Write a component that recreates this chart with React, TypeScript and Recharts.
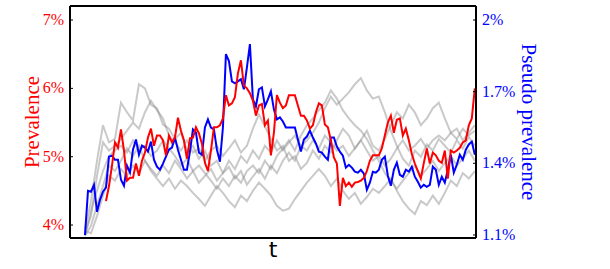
import { LineChart, Line, XAxis, YAxis, ReferenceLine } from 'recharts';

// time grid index: one step per sample
const redStart = 7;
const grayStep = 2;

// prevalence (%), left axis
const red = [
  4.35, 4.57, 4.87, 5.21, 5.13, 5.4, 5.09, 4.65, 4.69, 4.69, 4.9, 4.72, 4.94, 5.06, 5.28, 5.41,
  5.16, 5.31, 5.31, 5.24, 5.02, 5.31, 5.21, 5.28, 5.57, 5.38, 5.24, 4.97, 5.27, 5.28, 5.43, 5.34,
  5.19, 4.91, 4.79, 5.09, 5.43, 5.43, 5.46, 5.56, 5.9, 5.75, 5.78, 5.87, 6.22, 6.41, 6.04, 6.0,
  5.93, 5.82, 5.6, 5.75, 5.77, 5.46, 5.53, 5.02, 5.35, 5.9, 5.79, 5.71, 5.75, 5.9, 5.9, 5.9,
  5.75, 5.6, 5.6, 5.53, 5.41, 5.46, 5.65, 5.78, 5.75, 5.47, 5.43, 5.24, 4.99, 4.9, 4.28, 4.69,
  4.57, 4.62, 4.56, 4.62, 4.63, 4.65, 4.69, 4.79, 4.94, 5.02, 5.02, 5.02, 5.12, 5.31, 5.5, 5.6,
  5.35, 5.54, 5.56, 5.31, 5.41, 5.24, 5.04, 4.9, 4.79, 4.68, 4.91, 5.12, 4.9, 5.06, 5.02, 4.94,
  4.91, 5.09, 4.68, 5.09, 5.06, 5.09, 5.13, 5.21, 5.24, 5.46, 5.56, 6.0,
];

// pseudo prevalence (%), right axis
const blue = [
  1.1, 1.285, 1.281, 1.31, 1.197, 1.247, 1.281, 1.298, 1.428, 1.432, 1.415, 1.415, 1.331, 1.306,
  1.39, 1.361, 1.457, 1.5, 1.436, 1.474, 1.466, 1.449, 1.491, 1.415, 1.386, 1.373, 1.399, 1.428,
  1.457, 1.466, 1.508, 1.457, 1.415, 1.373, 1.373, 1.449, 1.542, 1.529, 1.445, 1.436, 1.55, 1.584,
  1.55, 1.542, 1.457, 1.407, 1.55, 1.857, 1.828, 1.743, 1.735, 1.743, 1.752, 1.71, 1.802, 1.899,
  1.668, 1.638, 1.71, 1.718, 1.638, 1.668, 1.701, 1.626, 1.584, 1.592, 1.575, 1.55, 1.55, 1.55,
  1.55, 1.5, 1.449, 1.5, 1.512, 1.537, 1.508, 1.483, 1.449, 1.445, 1.428, 1.415, 1.508, 1.508,
  1.47, 1.449, 1.432, 1.382, 1.394, 1.382, 1.365, 1.361, 1.373, 1.357, 1.289, 1.319, 1.365, 1.361,
  1.373, 1.415, 1.428, 1.348, 1.306, 1.373, 1.403, 1.352, 1.344, 1.373, 1.365, 1.386, 1.344, 1.323,
  1.298, 1.31, 1.302, 1.31, 1.386, 1.373, 1.31, 1.344, 1.319, 1.373, 1.436, 1.361, 1.394, 1.436,
  1.415, 1.457, 1.479, 1.491, 1.436,
];

// other runs (%), left axis, every second step
const gray1 = [
  3.94, 4.35, 4.94, 5.46, 5.21, 5.26, 5.79, 5.65, 5.53, 6.06, 6.0, 5.76, 5.71, 5.47, 5.41, 5.26,
  5.35, 5.09, 5.16, 4.97, 5.09, 4.87, 4.94, 4.76, 4.85, 4.68, 4.79, 4.59, 4.71, 4.82, 4.68, 4.87,
  4.76, 4.94, 5.06, 4.94, 5.15, 5.24, 5.35, 5.5, 5.71, 5.88, 5.76, 5.85, 5.94, 6.06, 6.15, 5.97,
  5.85, 5.88, 5.65, 5.38, 5.16, 4.97, 4.87, 5.09, 5.0, 5.18, 5.09, 5.26, 5.16, 5.06, 5.24, 5.12,
  5.29, 5.16,
];
const gray2 = [
  3.88, 4.13, 4.72, 5.21, 5.09, 5.16, 5.26, 5.38, 5.5, 5.41, 5.65, 5.82, 5.68, 5.56, 5.31, 5.21,
  5.09, 5.24, 5.06, 5.12, 4.94, 5.09, 5.16, 5.01, 5.12, 5.24, 5.06, 5.16, 5.41, 5.62, 5.44, 5.26,
  5.09, 5.16, 4.94, 5.01, 4.82, 4.91, 5.09, 4.97, 5.16, 5.06, 5.24, 5.41, 5.31, 5.12, 5.24, 5.38,
  5.16, 5.09, 5.26, 5.46, 5.65, 5.56, 5.76, 5.65, 5.46, 5.56, 5.71, 5.79, 5.56, 5.35, 5.41, 5.24,
  5.35, 5.46,
];
const gray3 = [
  3.84, 3.99, 4.28, 4.57, 4.87, 4.79, 4.94, 5.12, 5.01, 5.16, 4.94, 4.82, 4.72, 4.87, 4.76, 4.94,
  4.82, 4.68, 4.79, 4.62, 4.72, 4.82, 4.65, 4.76, 4.94, 4.82, 5.01, 4.91, 5.09, 4.97, 5.16, 5.06,
  5.24, 5.09, 5.21, 5.31, 5.16, 5.09, 5.24, 5.12, 5.31, 5.21, 5.09, 5.16, 5.01, 5.12, 5.24, 5.09,
  4.94, 5.01, 4.87, 4.97, 5.12, 5.24, 5.09, 5.16, 5.26, 5.12, 5.24, 5.31, 5.24, 5.35, 5.26, 5.41,
  5.31, 5.38,
];
const gray4 = [
  3.91, 3.88, 4.13, 4.43, 4.72, 4.65, 4.82, 4.72, 4.87, 4.76, 4.94, 4.79, 4.68, 4.57, 4.68, 4.53,
  4.65, 4.57, 4.47, 4.38, 4.28, 4.43, 4.57, 4.47, 4.35, 4.26, 4.43, 4.35, 4.5, 4.62, 4.53, 4.43,
  4.28, 4.21, 4.24, 4.38, 4.5, 4.62, 4.72, 4.82, 4.72, 4.57, 4.68, 4.5, 4.38, 4.47, 4.31, 4.41,
  4.53, 4.47, 4.57, 4.68, 4.5, 4.35, 4.24, 4.16, 4.35, 4.29, 4.43, 4.31, 4.47, 4.65, 4.57, 4.76,
  4.68, 4.79,
];
const gray5 = [
  3.85, 4.21, 4.5, 4.79, 5.01, 5.09, 5.16, 5.06, 5.24, 5.09, 5.16, 5.01, 5.09, 5.24, 5.12, 5.01,
  4.87, 4.97, 4.79, 4.87, 4.76, 4.65, 4.53, 4.68, 4.57, 4.72, 4.62, 4.79, 4.87, 4.76, 4.94, 4.82,
  5.01, 5.12, 5.24, 5.09, 5.31, 5.46, 5.56, 5.68, 5.79, 5.97, 5.85, 5.68, 5.56, 5.46, 5.38, 5.26,
  5.09, 4.94, 4.76, 4.65, 4.53, 4.65, 4.76, 4.87, 4.72, 4.82, 4.94, 4.79, 4.91, 5.01, 4.87, 4.97,
  5.09, 4.94,
];
const grays = [gray1, gray2, gray3, gray4, gray5];

const leftTicks = [4, 5, 6, 7];
const rightTicks = [1.1, 1.4, 1.7, 2];
const leftDomain = [3.81, 7.205];

const data = blue.map((b, i) => {
  const row: Record<string, number | null> = {
    t: i,
    blue: b,
    red: i >= redStart && red[i - redStart] !== undefined ? red[i - redStart] : null,
  };
  grays.forEach((g, k) => {
    row['g' + k] = i % grayStep === 0 && g[i / grayStep] !== undefined ? g[i / grayStep] : null;
  });
  return row;
});

const serif = 'Liberation Serif, serif';

const LeftTick = (props: any) => {
  const { x, y, payload } = props;
  return (
    <g>
      <line x1={x + 6} x2={x + 9} y1={y} y2={y} stroke="#000" strokeWidth={1} />
      <text x={x} y={y} dy={5} textAnchor="end" fill="#ff0000" fontSize={16} fontFamily={serif}>
        {payload.value}%
      </text>
    </g>
  );
};

const RightTick = (props: any) => {
  const { x, y, payload } = props;
  return (
    <g>
      <line x1={x - 6} x2={x - 9} y1={y} y2={y} stroke="#000" strokeWidth={1} />
      <text x={x} y={y} dy={5} textAnchor="start" fill="#0000ff" fontSize={16} fontFamily={serif}>
        {payload.value}%
      </text>
    </g>
  );
};

export default function App() {
  return (
    <div style={{ position: 'absolute', left: 0, top: 0, background: '#fff' }}>
      <LineChart width={610} height={269} data={data} margin={{ top: 6, right: 0, bottom: 0, left: 0 }}>
        <XAxis
          dataKey="t"
          type="number"
          domain={[-5, 130.4]}
          allowDataOverflow
          tick={false}
          tickLine={false}
          height={31}
          axisLine={{ stroke: '#000', strokeWidth: 2 }}
          label={{
            content: () => (
              <text x={273} y={257} textAnchor="middle" fontSize={22} fontFamily="DejaVu Sans, sans-serif" fill="#000">
                t
              </text>
            ),
          }}
        />
        <YAxis
          yAxisId="left"
          width={70}
          domain={leftDomain}
          ticks={leftTicks}
          allowDataOverflow
          tickSize={0}
          tickMargin={6}
          tick={<LeftTick />}
          axisLine={{ stroke: '#000', strokeWidth: 2 }}
          label={{
            content: () => (
              <text
                transform="translate(39,122) rotate(-90)"
                textAnchor="middle"
                fontSize={21}
                fontFamily={serif}
                fill="#ff0000"
              >
                Prevalence
              </text>
            ),
          }}
        />
        <YAxis
          yAxisId="right"
          orientation="right"
          width={134}
          domain={[1.0874, 2.0586]}
          ticks={rightTicks}
          allowDataOverflow
          tickSize={0}
          tickMargin={6}
          tick={<RightTick />}
          axisLine={{ stroke: '#000', strokeWidth: 2 }}
          label={{
            content: () => (
              <text
                transform="translate(522,122) rotate(90)"
                textAnchor="middle"
                fontSize={21}
                fontFamily={serif}
                fill="#0000ff"
              >
                Pseudo prevalence
              </text>
            ),
          }}
        />
        <ReferenceLine yAxisId="left" y={leftDomain[1]} stroke="#000" strokeWidth={2} />
        {grays.map((_, k) => (
          <Line
            key={k}
            yAxisId="left"
            dataKey={'g' + k}
            stroke="#888"
            strokeOpacity={0.45}
            strokeWidth={2}
            dot={false}
            connectNulls
            type="linear"
            isAnimationActive={false}
          />
        ))}
        <Line yAxisId="right" dataKey="blue" stroke="#0000ff" strokeWidth={2} dot={false} type="linear" isAnimationActive={false} />
        <Line yAxisId="left" dataKey="red" stroke="#ff0000" strokeWidth={2} dot={false} type="linear" isAnimationActive={false} />
      </LineChart>
    </div>
  );
}
